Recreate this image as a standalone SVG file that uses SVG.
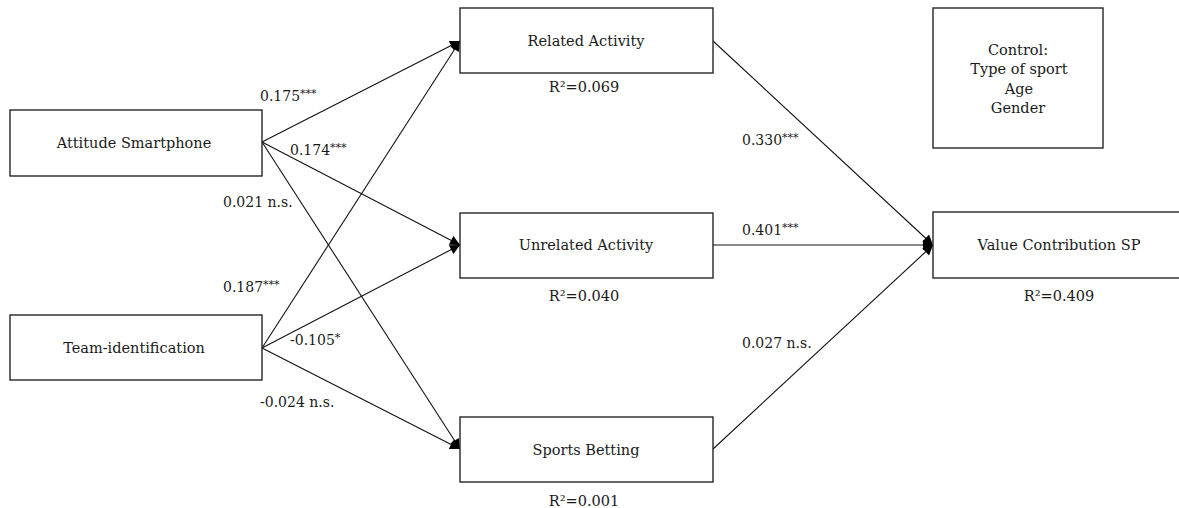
<svg xmlns="http://www.w3.org/2000/svg" width="1179" height="508" viewBox="0 0 1179 508">
  <style>
    .box { fill: #ffffff; stroke: #262626; stroke-width: 1.4; }
    .lbl { font-family: "DejaVu Serif", "Liberation Serif", serif; fill: #1a1a1a; }
    .node { font-size: 14.5px; text-anchor: middle; }
    .coef { font-size: 14px; }
    .r2 { font-size: 14.5px; text-anchor: middle; }
    .sup { font-size: 11px; }
    .edge { stroke: #111111; stroke-width: 1.1; fill: none; marker-end: url(#head); }
  </style>
  <defs>
    <marker id="head" viewBox="0 0 10 10" refX="10" refY="5" markerWidth="11" markerHeight="10" markerUnits="userSpaceOnUse" orient="auto">
      <path d="M0,0 L10,5 L0,10 z" fill="#000000"/>
    </marker>
  </defs>

  <rect width="1179" height="508" fill="#ffffff"/>

  <!-- paths between constructs -->
  <g id="connectors">
    <line class="edge" x1="262" y1="142" x2="460" y2="41"/>
    <line class="edge" x1="262" y1="142" x2="460" y2="245"/>
    <line class="edge" x1="262" y1="142" x2="460" y2="449"/>
    <line class="edge" x1="262" y1="348" x2="460" y2="41"/>
    <line class="edge" x1="262" y1="348" x2="460" y2="245"/>
    <line class="edge" x1="262" y1="348" x2="460" y2="449"/>
    <line class="edge" x1="713" y1="41" x2="933" y2="245"/>
    <line class="edge" x1="713" y1="245" x2="933" y2="245"/>
    <line class="edge" x1="713" y1="449" x2="933" y2="245"/>
  </g>

  <!-- path coefficients -->
  <g id="coefficients" class="lbl coef">
    <text x="260" y="101">0.175<tspan class="sup" dy="-4">***</tspan></text>
    <text x="290" y="155">0.174<tspan class="sup" dy="-4">***</tspan></text>
    <text x="223" y="207">0.021 n.s.</text>
    <text x="223" y="292">0.187<tspan class="sup" dy="-4">***</tspan></text>
    <text x="290" y="345">-0.105<tspan class="sup" dy="-4">*</tspan></text>
    <text x="260" y="407">-0.024 n.s.</text>
    <text x="742" y="145">0.330<tspan class="sup" dy="-4">***</tspan></text>
    <text x="742" y="235">0.401<tspan class="sup" dy="-4">***</tspan></text>
    <text x="742" y="348">0.027 n.s.</text>
  </g>

  <g id="attitude-smartphone">
    <rect class="box" x="10" y="110" width="252" height="66"/>
    <text class="lbl node" x="134" y="148">Attitude Smartphone</text>
  </g>

  <g id="team-identification">
    <rect class="box" x="10" y="315" width="252" height="65"/>
    <text class="lbl node" x="134" y="353">Team-identification</text>
  </g>

  <g id="related-activity">
    <rect class="box" x="460" y="8" width="253" height="65"/>
    <text class="lbl node" x="586" y="46">Related Activity</text>
    <text class="lbl r2" x="584" y="92">R²=0.069</text>
  </g>

  <g id="unrelated-activity">
    <rect class="box" x="460" y="213" width="253" height="65"/>
    <text class="lbl node" x="586" y="250">Unrelated Activity</text>
    <text class="lbl r2" x="584" y="301">R²=0.040</text>
  </g>

  <g id="sports-betting">
    <rect class="box" x="460" y="417" width="253" height="65"/>
    <text class="lbl node" x="586" y="455">Sports Betting</text>
    <text class="lbl r2" x="584" y="506">R²=0.001</text>
  </g>

  <g id="value-contribution">
    <rect class="box" x="933" y="212" width="260" height="66"/>
    <text class="lbl node" x="1059" y="250">Value Contribution SP</text>
    <text class="lbl r2" x="1059" y="301">R²=0.409</text>
  </g>

  <g id="control">
    <rect class="box" x="933" y="8" width="170" height="140"/>
    <text class="lbl node" x="1018" y="55">Control:</text>
    <text class="lbl node" x="1019" y="74">Type of sport</text>
    <text class="lbl node" x="1019" y="94">Age</text>
    <text class="lbl node" x="1018" y="113">Gender</text>
  </g>
</svg>
